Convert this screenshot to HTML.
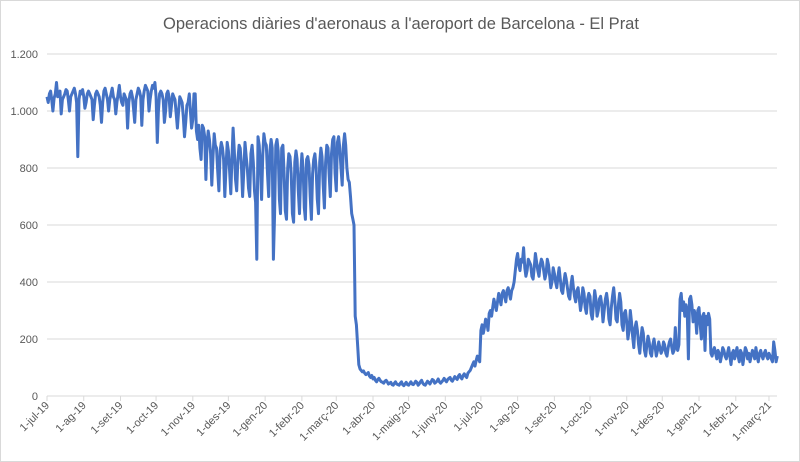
<!DOCTYPE html>
<html><head><meta charset="utf-8"><style>
html,body{margin:0;padding:0;background:#fff;}
#wrap{position:relative;width:798px;height:460px;border:1px solid #d9d9d9;overflow:hidden;}
svg{position:absolute;left:0;top:0;}
</style></head><body>
<div id="wrap">
<svg id="chart" width="800" height="462"></svg>
</div>
<script>
const tickLabels=["1-jul-19","1-ag-19","1-set-19","1-oct-19","1-nov-19","1-des-19","1-gen-20","1-febr-20","1-març-20","1-abr-20","1-maig-20","1-juny-20","1-jul-20","1-ag-20","1-set-20","1-oct-20","1-nov-20","1-des-20","1-gen-21","1-febr-21","1-març-21"];
const yTicks=[0,200,400,600,800,1000,1200];
const yTickLabels=["0","200","400","600","800","1.000","1.200"];
const jul19=[1050,1030,1060,1070,1040,1000,1045,1060,1100,1050,1060,1070,990,1040,1050,1060,1075,1070,1040,1000,1050,1060,1070,1080,1060,1030,840,1040,1070,1060,1075];
const aug19=[1050,1010,1030,1060,1070,1060,1050,1040,970,1020,1060,1070,1060,1050,1020,960,1030,1070,1080,1060,1040,1000,1040,1060,1080,1050,1040,990,1030,1060,1090];
const sep19=[1050,1030,1020,1060,1050,1040,940,1030,1060,1070,1050,1010,960,1040,1060,1080,1070,1050,950,1040,1070,1090,1080,1070,1000,1040,1070,1090,1080,1100];
const oct19=[1050,890,1000,1060,1070,1060,1040,960,1000,1060,1070,1050,980,1020,1060,1050,1040,990,940,1000,1050,1040,1030,980,910,960,1020,1030,1060,1000,940];
const nov19=[970,1060,1060,930,900,950,870,830,950,940,910,760,880,930,900,850,740,840,920,880,870,790,720,860,890,870,830,700,800,890];
const dec19=[860,790,710,830,940,860,760,720,830,880,870,810,700,790,890,840,800,730,700,850,880,820,720,680,480,910,880,800,690,850,920];
const jan20=[890,880,780,700,860,900,870,480,640,880,900,860,690,640,870,880,780,650,620,800,850,840,780,640,610,820,860,830,720,640,780];
const feb20=[850,800,660,620,830,840,810,700,620,780,830,850,800,690,640,820,870,840,740,660,820,880,870,780,700,850,900,910,780];
const mar20=[720,890,910,870,800,740,880,920,880,800,760,750,700,640,620,600,280,250,180,110,95,90,85,88,80,75,78,82,70,65,72];
const apr20=[60,65,55,50,58,62,55,50,48,45,52,55,50,42,45,48,40,38,45,50,42,40,38,45,50,40,36,42,48,40];
const may20=[38,44,50,42,40,45,52,48,38,42,50,55,45,40,38,45,52,48,42,50,58,55,45,48,52,60,50,45,50,55,62];
const jun20=[55,50,58,62,65,55,52,60,68,62,58,70,75,65,60,72,78,70,65,80,85,90,100,110,120,105,125,140,130,120];
const jul20=[230,250,220,240,270,260,230,290,300,280,310,340,320,300,330,360,340,320,360,370,350,330,370,380,360,340,370,380,400,440,480];
const aug20=[500,460,440,480,470,520,450,420,440,480,470,460,420,410,450,500,470,440,420,460,480,470,440,410,430,480,460,420,380,400,450];
const sep20=[430,400,380,420,450,410,370,360,400,430,410,380,350,340,390,420,380,350,330,370,380,340,300,330,380,360,310,290,340,360];
const oct20=[350,290,270,320,370,340,280,300,340,350,320,260,300,340,360,330,270,250,310,350,380,330,270,260,320,360,330,250,230,290,300];
const nov20=[260,200,230,300,260,210,170,240,260,230,180,150,200,240,220,160,140,180,210,190,150,140,180,200,170,140,160,190,170,150];
const dec20=[160,190,180,150,140,170,190,200,170,150,160,240,170,160,180,340,360,300,330,280,320,300,130,340,350,320,260,300,280,220,300];
const jan21=[310,250,200,280,290,160,280,250,290,270,150,140,160,170,150,130,160,150,120,140,170,160,140,130,150,170,140,110,150,160,130];
const feb21=[150,170,140,120,160,150,110,140,170,160,130,150,120,140,160,150,130,170,140,120,150,160,140,130,150,160,140,130];
const mar21=[150,140,130,120,190,160,120,140];
const monthSeries=[jul19,aug19,sep19,oct19,nov19,dec19,jan20,feb20,mar20,apr20,may20,jun20,jul20,aug20,sep20,oct20,nov20,dec20,jan21,feb21,mar21];

const NS="http://www.w3.org/2000/svg";
const svg=document.getElementById('chart');
const X0=46,PXD=1.1855,Y0=395,PXU=57/200;
const start=Date.UTC(2019,6,1);
function dayOfMonth(i){return Math.round((Date.UTC(2019,6+i,1)-start)/86400000);}
function xScale(d){return X0+d*PXD;}
function yScale(v){return Y0-v*PXU;}
function mk(tag,attrs){const e=document.createElementNS(NS,tag);for(const k in attrs)e.setAttribute(k,attrs[k]);svg.appendChild(e);return e;}

const title=mk('text',{x:400,y:28,'text-anchor':'middle','font-family':'Liberation Sans, sans-serif','font-size':'16.5','fill':'#595959'});
title.textContent="Operacions diàries d'aeronaus a l'aeroport de Barcelona - El Prat";



yTicks.forEach((v,i)=>{
  const y=yScale(v);
  if(v>0){const g=mk('line',{x1:X0,x2:776,y1:y,y2:y,stroke:'#d9d9d9','stroke-width':1});
  
  }
  const t=mk('text',{x:37,y:y+4,'text-anchor':'end','font-family':'Liberation Sans, sans-serif','font-size':'11','fill':'#595959'});
  t.textContent=yTickLabels[i];
  
  
});
const ax=mk('line',{x1:X0,x2:776,y1:Y0,y2:Y0,stroke:'#d9d9d9','stroke-width':1});



tickLabels.forEach((lab,i)=>{
  const x=xScale(dayOfMonth(i));
  const tk=mk('line',{x1:x,x2:x,y1:Y0,y2:Y0+5,stroke:'#d9d9d9','stroke-width':1});
  
  
  const t=mk('text',{x:x+3,y:Y0+10,'text-anchor':'end','font-family':'Liberation Sans, sans-serif','font-size':'11','fill':'#595959',transform:`rotate(-45 ${x+3} ${Y0+10})`});
  t.textContent=lab;
  
  
});

let pts=[];
monthSeries.forEach((arr,m)=>{
  const s=dayOfMonth(m);
  arr.forEach((v,j)=>pts.push(xScale(s+j).toFixed(1)+','+yScale(v).toFixed(1)));
});
const line=mk('polyline',{points:pts.join(' '),fill:'none',stroke:'#4472C4','stroke-width':3,'stroke-linejoin':'round'});


</script>
</body></html>
